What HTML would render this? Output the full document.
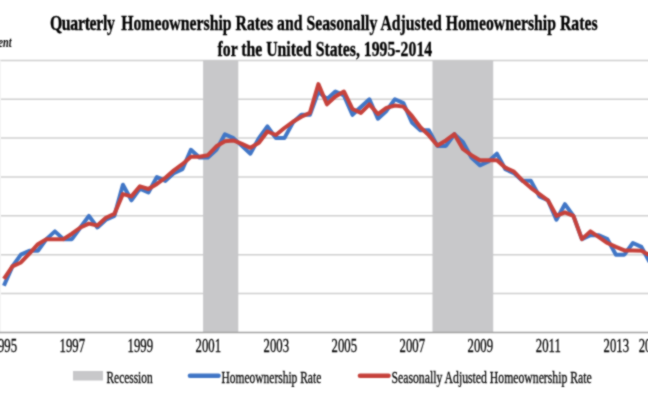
<!DOCTYPE html>
<html><head><meta charset="utf-8"><style>
html,body{margin:0;padding:0;background:#fff;overflow:hidden}
svg{display:block}
#w{width:648px;height:400px;}
text{font-family:"Liberation Serif",serif;fill:#000}
</style></head><body>
<div id="w"><svg width="648" height="400" viewBox="0 0 648 400">
<defs><filter id="soft" x="0" y="0" width="648" height="400" filterUnits="userSpaceOnUse" color-interpolation-filters="sRGB"><feConvolveMatrix order="3" kernelMatrix="1 2 1 2 8 2 1 2 1" edgeMode="duplicate" preserveAlpha="false"/></filter></defs>
<g filter="url(#soft)">
<rect width="648" height="400" fill="#fff"/>
<g font-weight="bold" font-size="22" stroke="#000" stroke-width="0.35">
<text x="0" y="30" text-anchor="start" transform="translate(49.90,0) scale(0.717,1)" ><tspan letter-spacing="-0.4">Quarterly</tspan><tspan dx="3.6"> Homeownership Rates and Seasonally Adjusted Homeownership Rates</tspan></text>
<text x="0" y="56" text-anchor="start" transform="translate(217.50,0) scale(0.717,1)" >for the United States, 1995-2014</text>
</g>
<text x="0" y="47.3" text-anchor="end" transform="translate(11.50,0) scale(0.66,1)" font-size="15.5" font-weight="bold" font-style="italic">Percent</text>
<g stroke="#d0d0d0" stroke-width="1.5"><line x1="0" x2="648" y1="60.4" y2="60.4" /><line x1="0" x2="648" y1="99.3" y2="99.3" /><line x1="0" x2="648" y1="138.1" y2="138.1" /><line x1="0" x2="648" y1="177.0" y2="177.0" /><line x1="0" x2="648" y1="215.8" y2="215.8" /><line x1="0" x2="648" y1="254.7" y2="254.7" /><line x1="0" x2="648" y1="293.5" y2="293.5" /></g>
<line x1="0.5" x2="0.5" y1="60.4" y2="332.4" stroke="#f4f4f4" stroke-width="1"/>
<rect x="203.1" y="60.4" width="35.2" height="272.0" fill="#c8c8ca"/>
<rect x="432.5" y="60.4" width="60.7" height="272.0" fill="#c8c8ca"/>
<line x1="0" x2="648" y1="332.59999999999997" y2="332.59999999999997" stroke="#a2a2a2" stroke-width="1.5"/>
<path d="M3.90,285.77 L12.40,266.34 L20.90,254.69 L29.40,250.80 L37.90,250.80 L46.40,239.14 L54.90,231.37 L63.40,239.14 L71.90,239.14 L80.40,227.49 L88.90,215.83 L97.40,227.49 L105.90,219.71 L114.40,215.83 L122.90,184.74 L131.40,200.29 L139.90,188.63 L148.40,192.51 L156.90,176.97 L165.40,180.86 L173.90,173.09 L182.40,169.20 L190.90,149.77 L199.40,157.54 L207.90,157.54 L216.40,149.77 L224.90,134.23 L233.40,138.11 L241.90,145.89 L250.40,153.66 L258.90,138.11 L267.40,126.46 L275.90,138.11 L284.40,138.11 L292.90,122.57 L301.40,114.80 L309.90,114.80 L318.40,91.49 L326.90,99.26 L335.40,91.49 L343.90,95.37 L352.40,114.80 L360.90,107.03 L369.40,99.26 L377.90,118.69 L386.40,110.91 L394.90,99.26 L403.40,103.14 L411.90,122.57 L420.40,130.34 L428.90,130.34 L437.40,145.89 L445.90,145.89 L454.40,134.23 L462.90,142.00 L471.40,157.54 L479.90,165.31 L488.40,161.43 L496.90,153.66 L505.40,169.20 L513.90,173.09 L522.40,180.86 L530.90,180.86 L539.40,196.40 L547.90,200.29 L556.40,219.71 L564.90,204.17 L573.40,215.83 L581.90,239.14 L590.40,235.26 L598.90,235.26 L607.40,239.14 L615.90,254.69 L624.40,254.69 L632.90,243.03 L641.40,246.91 L649.90,262.46 L658.40,266.34" fill="none" stroke="#4176c6" stroke-width="4.0" stroke-linejoin="round"/>
<path d="M3.90,278.78 L12.40,266.34 L20.90,262.46 L29.40,253.52 L37.90,244.19 L46.40,239.14 L54.90,239.14 L63.40,239.14 L71.90,233.70 L80.40,227.49 L88.90,223.60 L97.40,225.54 L105.90,217.77 L114.40,213.89 L122.90,194.07 L131.40,196.40 L139.90,186.30 L148.40,189.02 L156.90,183.97 L165.40,177.75 L173.90,170.37 L182.40,164.15 L190.90,156.77 L199.40,156.77 L207.90,155.21 L216.40,146.27 L224.90,141.22 L233.40,140.45 L241.90,143.94 L250.40,147.83 L258.90,142.78 L267.40,131.51 L275.90,135.01 L284.40,128.01 L292.90,121.79 L301.40,116.74 L309.90,112.86 L318.40,84.10 L326.90,104.31 L335.40,96.54 L343.90,91.49 L352.40,108.97 L360.90,112.86 L369.40,104.31 L377.90,114.02 L386.40,107.81 L394.90,105.47 L403.40,106.64 L411.90,115.97 L420.40,127.23 L428.90,135.39 L437.40,145.50 L445.90,140.45 L454.40,134.23 L462.90,148.99 L471.40,155.21 L479.90,160.26 L488.40,160.26 L496.90,160.26 L505.40,167.65 L513.90,171.53 L522.40,180.47 L530.90,187.85 L539.40,194.07 L547.90,200.29 L556.40,215.83 L564.90,212.33 L573.40,215.83 L581.90,239.14 L590.40,231.37 L598.90,237.20 L607.40,243.03 L615.90,246.91 L624.40,250.41 L632.90,250.41 L641.40,250.80 L649.90,255.46 L658.40,258.57" fill="none" stroke="#c6423c" stroke-width="4.0" stroke-linejoin="round"/>
<g font-size="18.5" stroke="#000" stroke-width="0.3"><text x="0" y="352.3" text-anchor="middle" transform="translate(4.30,0) scale(0.69,1)" >1995</text><text x="0" y="352.3" text-anchor="middle" transform="translate(72.30,0) scale(0.69,1)" >1997</text><text x="0" y="352.3" text-anchor="middle" transform="translate(140.30,0) scale(0.69,1)" >1999</text><text x="0" y="352.3" text-anchor="middle" transform="translate(208.30,0) scale(0.69,1)" >2001</text><text x="0" y="352.3" text-anchor="middle" transform="translate(276.30,0) scale(0.69,1)" >2003</text><text x="0" y="352.3" text-anchor="middle" transform="translate(344.30,0) scale(0.69,1)" >2005</text><text x="0" y="352.3" text-anchor="middle" transform="translate(412.30,0) scale(0.69,1)" >2007</text><text x="0" y="352.3" text-anchor="middle" transform="translate(480.30,0) scale(0.69,1)" >2009</text><text x="0" y="352.3" text-anchor="middle" transform="translate(548.30,0) scale(0.69,1)" >2011</text><text x="0" y="352.3" text-anchor="middle" transform="translate(616.30,0) scale(0.69,1)" >2013</text><text x="0" y="352.3" text-anchor="middle" transform="translate(651.50,0) scale(0.69,1)" >2014</text></g>
<rect x="73" y="371" width="30" height="9.5" fill="#c8c8ca"/>
<line x1="190" x2="218.5" y1="375.8" y2="375.8" stroke="#4176c6" stroke-width="4.6" stroke-linecap="round"/>
<line x1="360" x2="388.5" y1="375.8" y2="375.8" stroke="#c6423c" stroke-width="4.6" stroke-linecap="round"/>
<g font-size="17" stroke="#000" stroke-width="0.3">
<text x="0" y="382.7" text-anchor="start" transform="translate(106.50,0) scale(0.67,1)" >Recession</text>
<text x="0" y="382.7" text-anchor="start" transform="translate(221.50,0) scale(0.675,1)" >Homeownership Rate</text>
<text x="0" y="382.7" text-anchor="start" transform="translate(391.50,0) scale(0.69,1)" >Seasonally Adjusted Homeownership Rate</text>
</g>
</g>
</svg></div>
</body></html>
